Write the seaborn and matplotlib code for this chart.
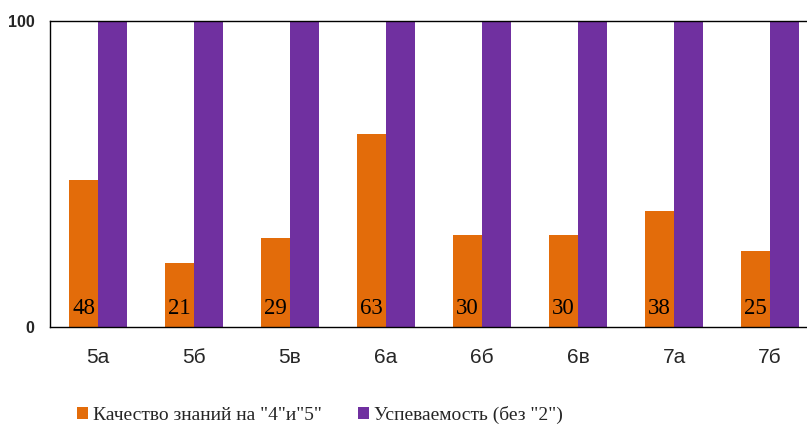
import numpy as np
import pandas as pd
import matplotlib
matplotlib.use("Agg")
import matplotlib.pyplot as plt
import seaborn as sns
from matplotlib.patches import Patch

# data
classes = ["5а", "5б", "5в", "6а", "6б", "6в", "7а", "7б"]
quality = [48, 21, 29, 63, 30, 30, 38, 25]
success = [100, 100, 100, 100, 100, 100, 100, 100]
series = ['Качество знаний на "4"и"5"', 'Успеваемость (без "2")']
colors = ["#E36C0A", "#7030A0"]

df = pd.DataFrame({
    "class": classes * 2,
    "value": quality + success,
    "series": [series[0]] * len(classes) + [series[1]] * len(classes),
})

sns.set_style("white")

fig = plt.figure(figsize=(8.07, 4.25), dpi=100)
ax = fig.add_axes([50 / 807, 98 / 425, 768 / 807, 306 / 425])

sns.barplot(data=df, x="class", y="value", hue="series", palette=colors,
            width=0.6, saturation=1, ax=ax, legend=False, edgecolor="none")

ax.set_ylim(0, 100)
ax.set_xlim(-0.5, len(classes) - 0.5)
ax.set_yticks([0, 100])
ax.set_yticklabels(["0", "100"], fontsize=11.5, fontweight="bold", family="Liberation Sans")
ax.tick_params(axis="y", length=3, width=1, color="black", pad=8)

ax.set_xticks(range(len(classes)))
ax.set_xticklabels(classes, fontsize=15, family="Liberation Sans")
ax.set_xticks(np.arange(-0.5, len(classes), 1), minor=True)
ax.tick_params(axis="x", which="major", length=0, pad=15)
ax.tick_params(axis="x", which="minor", length=5, width=1, color="black", direction="out")
ax.set_xlabel("")
ax.set_ylabel("")

for s in ["left", "bottom", "top"]:
    ax.spines[s].set_color("black")
    ax.spines[s].set_linewidth(1)
ax.spines["right"].set_visible(False)

# value labels inside the orange bars
for i, v in enumerate(quality):
    ax.text(i - 0.15, 6, str(v), ha="center", va="center", fontsize=16.5,
            family="Liberation Serif", color="black")

handles = [Patch(facecolor=c, edgecolor="none") for c in colors]
fig.legend(handles, series, loc="center left", bbox_to_anchor=(77 / 807, 1 - 415 / 425),
           ncol=2, frameon=False, handlelength=0.55, handleheight=0.55, handletextpad=0.25,
           columnspacing=1.9, borderpad=0, borderaxespad=0,
           prop={"family": "Liberation Serif", "size": 14})

fig.savefig("out.png", dpi=100)
